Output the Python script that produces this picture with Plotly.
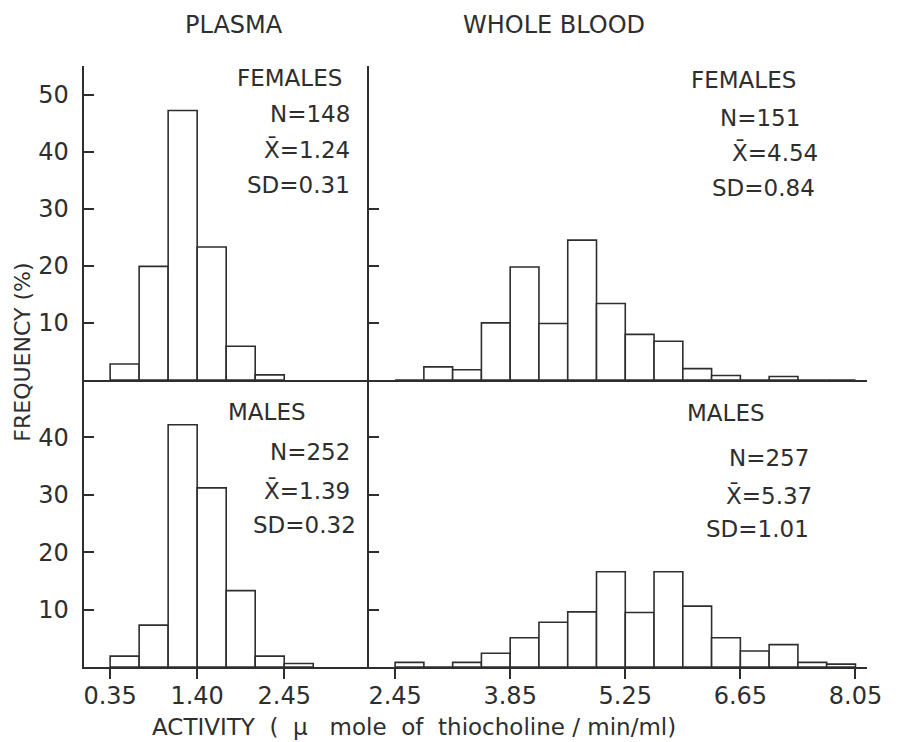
import plotly.graph_objects as go

# ---------------- data ----------------
bin_width = 0.35
plasma_bins = [0.35, 0.70, 1.05, 1.40, 1.75, 2.10, 2.45]
wb_bins = [2.45, 2.80, 3.15, 3.50, 3.85, 4.20, 4.55, 4.90,
           5.25, 5.60, 5.95, 6.30, 6.65, 7.00, 7.35, 7.70]

plasma_females = [2.8, 19.9, 47.2, 23.3, 5.9, 0.9]
plasma_males = [1.9, 7.3, 42.2, 31.2, 13.3, 1.9, 0.6]
wb_females = [0, 2.3, 1.8, 10.0, 19.8, 9.9, 24.5, 13.4, 8.0, 6.8, 2.0, 0.8, 0, 0.6, 0, 0]
wb_males = [0.8, 0, 0.8, 2.4, 5.1, 7.8, 9.6, 16.6, 9.5, 16.6, 10.6, 5.1, 2.8, 3.9, 0.8, 0.5]

plasma_ticks = [0.35, 1.40, 2.45]
plasma_ticktext = ["0.35", "1.40", "2.45"]
wb_ticks = [2.45, 3.85, 5.25, 6.65, 8.05]
wb_ticktext = ["2.45", "3.85", "5.25", "6.65", "8.05"]

females_plasma_stats = ["FEMALES", "N=148", "X\u0304=1.24", "SD=0.31"]
females_wb_stats = ["FEMALES", "N=151", "X\u0304=4.54", "SD=0.84"]
males_plasma_stats = ["MALES", "N=252", "X\u0304=1.39", "SD=0.32"]
males_wb_stats = ["MALES", "N=257", "X\u0304=5.37", "SD=1.01"]

# ---------------- layout helpers ----------------
W, H = 905, 742
INK = "#2e2e2e"
FONT = "DejaVu Sans, Liberation Sans, sans-serif"


def fx(px):
    return px / W


def fy(py):
    return 1 - py / H


left_dom = [fx(85), fx(375)]
right_dom = [fx(375), fx(882)]
top_dom = [fy(380), fy(66)]
bot_dom = [fy(667), fy(380)]
plasma_range = [0.03, 3.47]
wb_range = [2.13, 8.195]

fig = go.Figure()


def add_hist(bins, vals, xa, ya):
    centers = [b + bin_width / 2 for b in bins[:len(vals)]]
    fig.add_trace(go.Bar(
        x=centers, y=vals, width=bin_width,
        marker=dict(color="white", line=dict(color=INK, width=1.6)),
        xaxis=xa, yaxis=ya, showlegend=False, hoverinfo="x+y"))


add_hist(plasma_bins, plasma_females, "x", "y")
add_hist(wb_bins, wb_females, "x2", "y2")
add_hist(plasma_bins, plasma_males, "x3", "y3")
add_hist(wb_bins, wb_males, "x4", "y4")

axis_common = dict(showgrid=False, zeroline=False, showline=True,
                   linecolor=INK, linewidth=2, tickcolor=INK, tickwidth=1.8,
                   ticklabeloverflow="allow",
                   tickfont=dict(family=FONT, size=24, color=INK))

fig.update_layout(
    width=W, height=H, autosize=False,
    margin=dict(l=0, r=0, t=0, b=0),
    paper_bgcolor="white", plot_bgcolor="rgba(0,0,0,0)",
    barmode="overlay",
    xaxis=dict(domain=left_dom, range=plasma_range, anchor="y",
               showticklabels=False, ticks="", **axis_common),
    yaxis=dict(domain=top_dom, range=[0, 55], anchor="x",
               tickvals=[10, 20, 30, 40, 50], ticks="inside", ticklen=10,
               ticklabelstandoff=8, **axis_common),
    xaxis2=dict(domain=right_dom, range=wb_range, anchor="y2",
                showticklabels=False, ticks="", **axis_common),
    yaxis2=dict(domain=top_dom, range=[0, 55], anchor="x2",
                tickvals=[10, 20, 30], ticks="inside", ticklen=10,
                showticklabels=False, **axis_common),
    xaxis3=dict(domain=left_dom, range=plasma_range, anchor="y3",
                tickvals=plasma_ticks, ticktext=plasma_ticktext,
                ticks="outside", ticklen=10, ticklabelstandoff=-4, **axis_common),
    yaxis3=dict(domain=bot_dom, range=[0, 50], anchor="x3",
                tickvals=[10, 20, 30, 40], ticks="inside", ticklen=10,
                ticklabelstandoff=8, **axis_common),
    xaxis4=dict(domain=right_dom, range=wb_range, anchor="y4",
                tickvals=wb_ticks, ticktext=wb_ticktext,
                ticks="outside", ticklen=10, ticklabelstandoff=-4, **axis_common),
    yaxis4=dict(domain=bot_dom, range=[0, 50], anchor="x4",
                tickvals=[10, 20, 30, 40], ticks="inside", ticklen=10,
                showticklabels=False, **axis_common),
)

annots = []


def txt(text, x, y, size=23, xanchor="center", angle=0):
    annots.append(dict(text=text, x=fx(x), y=fy(y), xref="paper", yref="paper",
                       xanchor=xanchor, yanchor="middle", showarrow=False,
                       textangle=angle,
                       font=dict(family=FONT, size=size, color=INK)))


# column titles
txt("PLASMA", 238, 25, size=24)
txt("WHOLE BLOOD", 563, 25, size=24)

# stats blocks
for t, y, x in zip(females_plasma_stats, [78, 114, 149, 185], [350, 358, 358, 358]):
    txt(t, x, y, xanchor="right")

for t, y, x in zip(females_wb_stats, [80, 118, 152, 188], [756, 773, 788, 776]):
    txt(t, x, y)

for t, y, x, a in zip(males_plasma_stats, [412, 452, 490, 525],
                      [271, 358, 358, 364],
                      ["center", "right", "right", "right"]):
    txt(t, x, y, xanchor=a)

for t, y, x in zip(males_wb_stats, [413, 458, 495, 529], [738, 782, 782, 770]):
    txt(t, x, y)

# axis titles
txt("ACTIVITY  (  \u00b5   mole  of  thiocholine / min/ml)", 421, 727, size=23)
txt("FREQUENCY (%)", 22, 352, size=22, angle=-90)

fig.update_layout(annotations=annots)

fig.write_html(
    "out.html",
    config={"responsive": False, "displayModeBar": False},
    post_script=("document.body.style.margin='0px';"
                 "document.body.style.overflow='hidden';"
                 "document.documentElement.style.overflow='hidden';"),
)
